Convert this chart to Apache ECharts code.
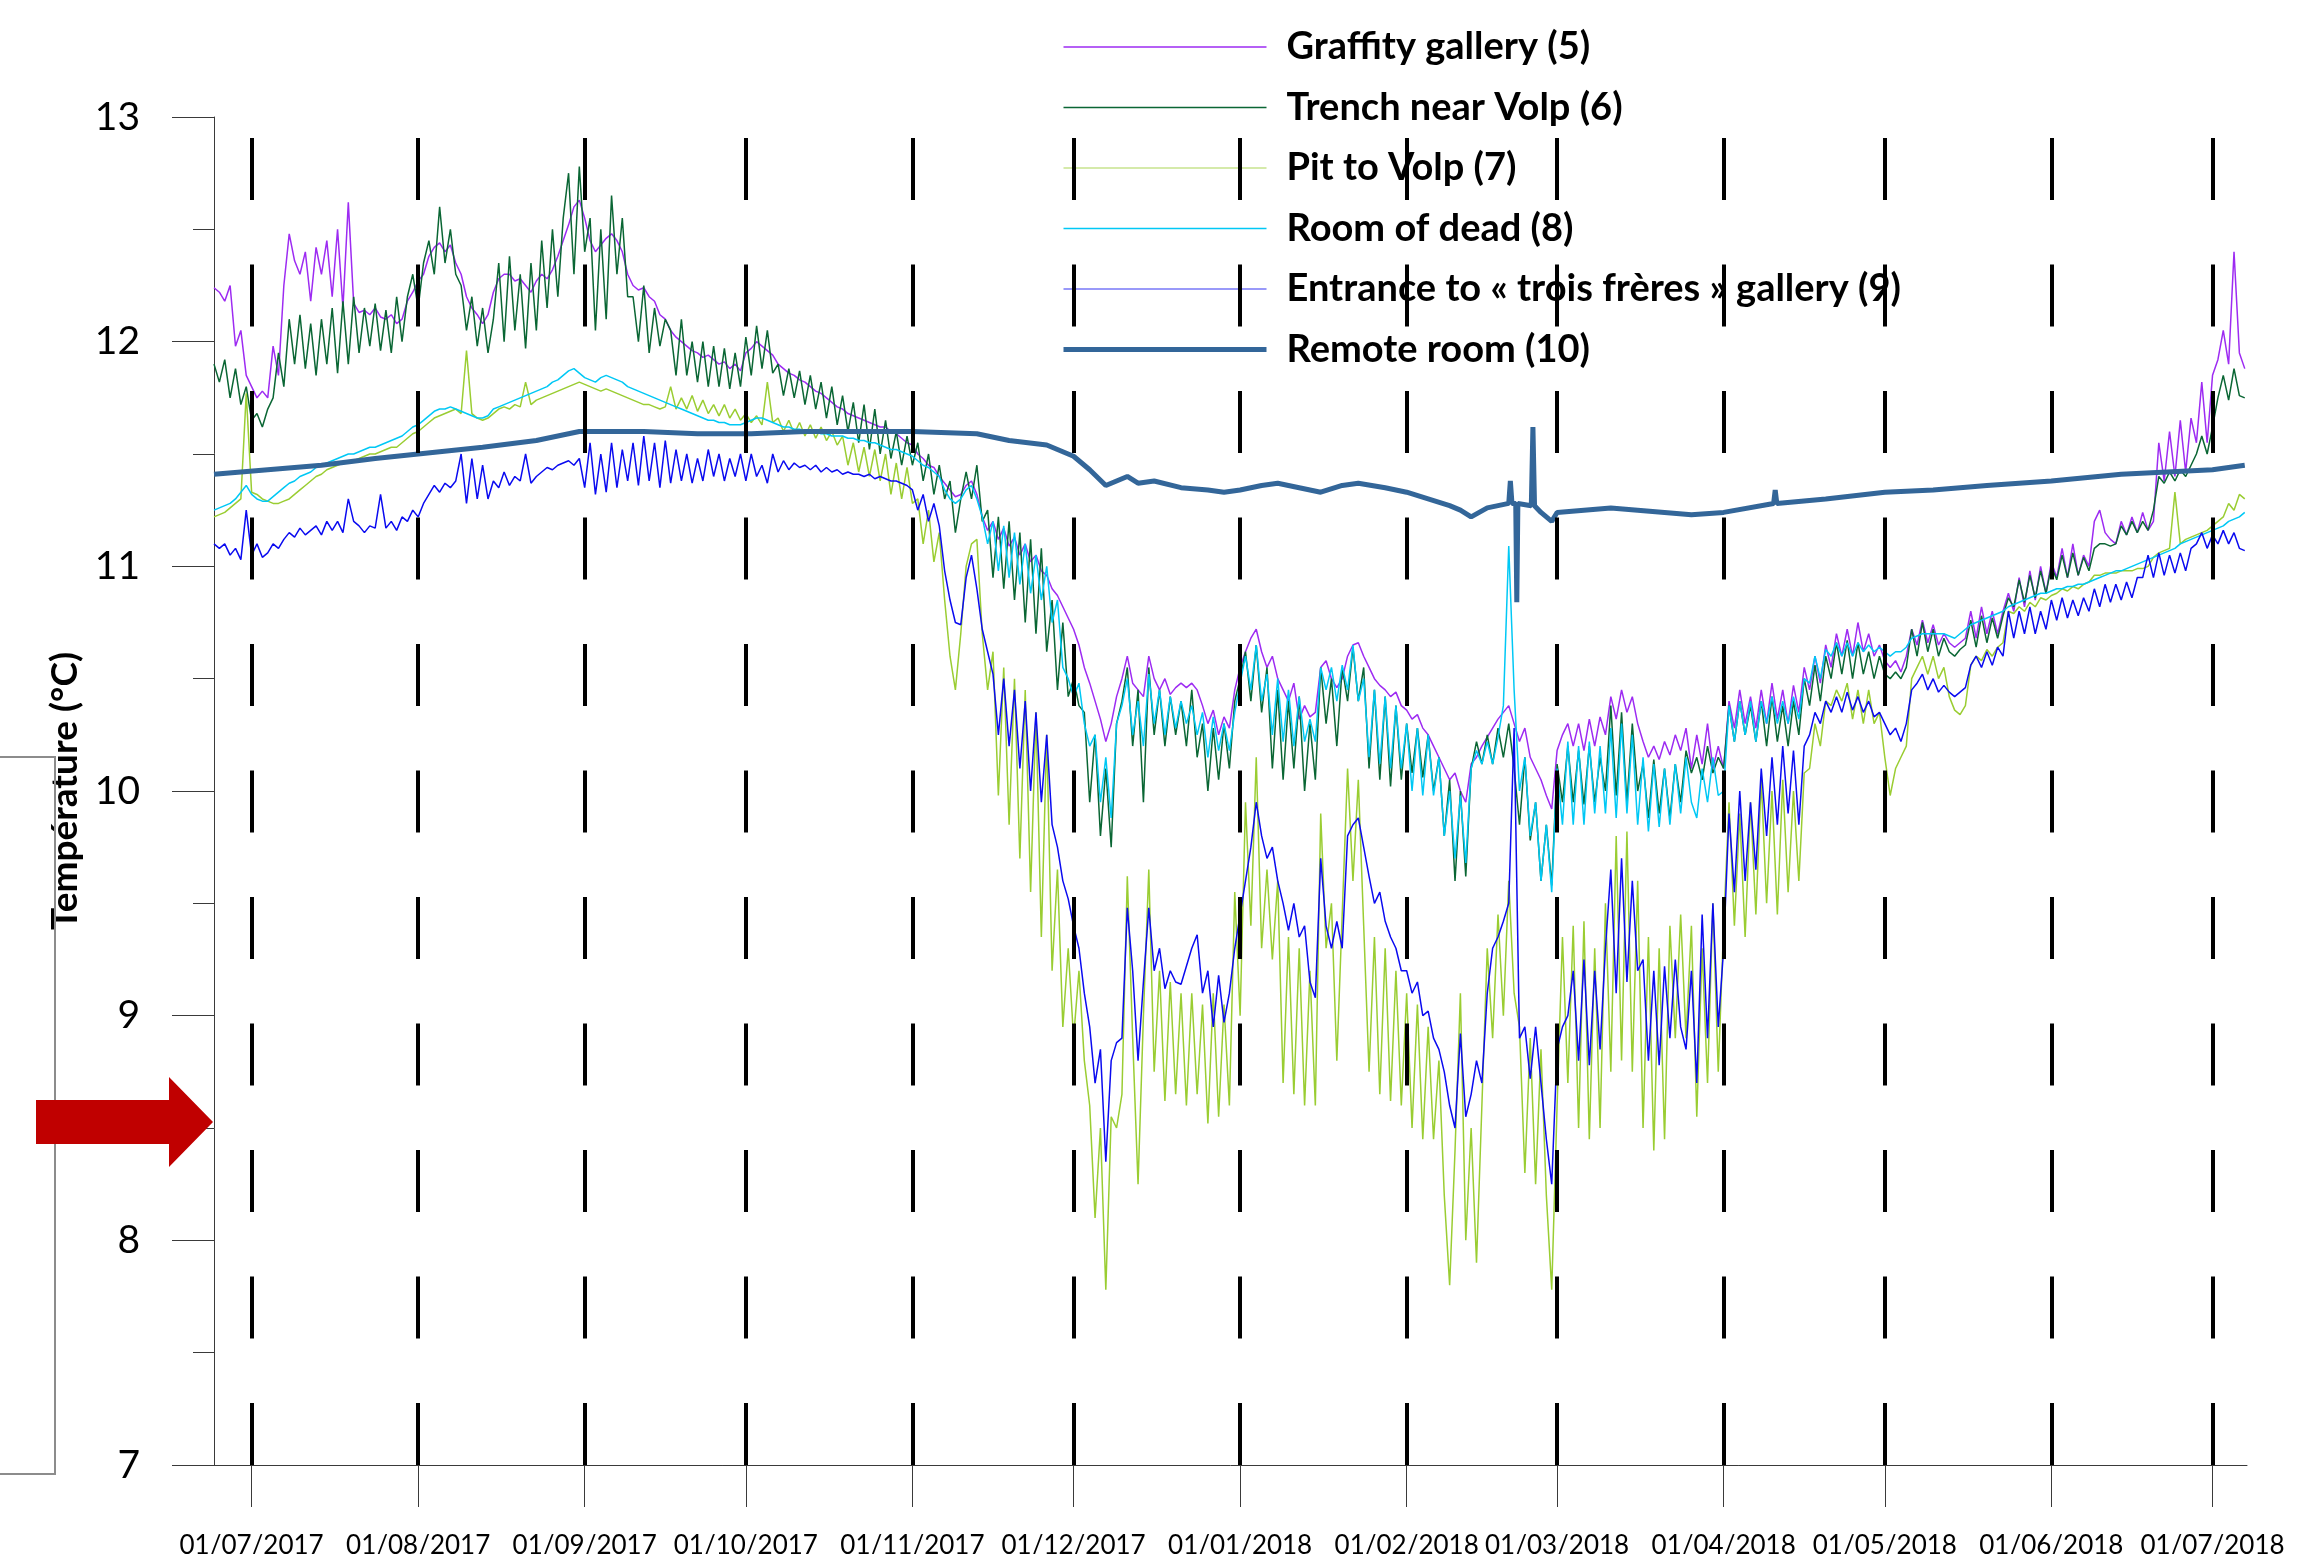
<!DOCTYPE html>
<html>
<head>
<meta charset="utf-8">
<script src="https://cdn.jsdelivr.net/npm/echarts@6/dist/echarts.min.js"></script>
<style>html,body{margin:0;padding:0;background:#fff}#c{width:2323px;height:1554px}</style>
</head>
<body>
<div id="c"></div>
<script>
// ---------- DATA (one value per day, starting 24/06/2017) ----------
const startDate = '2017-06-24';
const endDate = '2018-07-07T10:00';
const tickLabels = ['01/07/2017','01/08/2017','01/09/2017','01/10/2017','01/11/2017','01/12/2017','01/01/2018','01/02/2018','01/03/2018','01/04/2018','01/05/2018','01/06/2018','01/07/2018'];
const seriesNames = ['Graffity gallery (5)','Trench near Volp (6)','Pit to Volp (7)','Room of dead (8)','Entrance to « trois frères » gallery (9)','Remote room (10)'];

const graffity = [
12.24,12.22,12.18,12.25,11.98,12.05,11.85,11.80,11.75,11.78,
11.75,11.98,11.85,12.25,12.48,12.36,12.30,12.40,12.18,12.42,
12.30,12.45,12.20,12.50,12.15,12.62,12.17,12.13,12.14,12.12,
12.15,12.11,12.10,12.12,12.08,12.10,12.18,12.22,12.27,12.30,
12.38,12.42,12.44,12.40,12.43,12.35,12.30,12.20,12.15,12.12,
12.08,12.12,12.22,12.28,12.30,12.30,12.27,12.28,12.25,12.22,
12.27,12.30,12.28,12.32,12.38,12.45,12.52,12.60,12.63,12.55,
12.45,12.40,12.43,12.46,12.48,12.45,12.40,12.30,12.25,12.23,
12.24,12.20,12.18,12.12,12.10,12.05,12.02,12.00,11.98,11.96,
11.95,11.93,11.94,11.92,11.90,11.91,11.88,11.90,11.87,11.95,
11.97,12.00,11.98,11.96,11.94,11.90,11.88,11.86,11.85,11.83,
11.82,11.80,11.78,11.77,11.75,11.73,11.71,11.70,11.68,11.67,
11.66,11.65,11.64,11.63,11.62,11.62,11.60,11.59,11.57,11.55,
11.54,11.50,11.48,11.45,11.44,11.40,11.37,11.34,11.31,11.32,
11.36,11.38,11.32,11.22,11.16,11.20,11.12,11.17,11.09,11.13,
11.05,11.10,11.02,11.05,10.98,10.96,10.90,10.87,10.82,10.77,
10.72,10.65,10.55,10.48,10.40,10.32,10.22,10.30,10.42,10.50,
10.60,10.48,10.45,10.42,10.60,10.50,10.45,10.50,10.43,10.46,
10.48,10.46,10.48,10.45,10.38,10.30,10.36,10.25,10.33,10.28,
10.45,10.55,10.62,10.68,10.72,10.62,10.55,10.60,10.50,10.45,
10.40,10.48,10.32,10.38,10.33,10.35,10.55,10.58,10.50,10.46,
10.50,10.60,10.65,10.66,10.60,10.55,10.50,10.47,10.45,10.42,
10.44,10.38,10.36,10.32,10.34,10.28,10.25,10.20,10.15,10.10,
10.05,10.08,10.00,9.95,10.12,10.15,10.20,10.24,10.28,10.32,
10.35,10.38,10.30,10.22,10.28,10.15,10.10,10.05,9.98,9.92,
10.18,10.25,10.30,10.20,10.30,10.18,10.32,10.20,10.33,10.25,
10.42,10.32,10.45,10.35,10.42,10.30,10.22,10.15,10.20,10.14,
10.22,10.16,10.25,10.18,10.28,10.10,10.25,10.12,10.30,10.10,
10.20,10.10,10.40,10.28,10.45,10.30,10.42,10.28,10.45,10.30,
10.48,10.32,10.45,10.30,10.47,10.35,10.55,10.45,10.60,10.48,
10.65,10.55,10.70,10.60,10.72,10.60,10.75,10.62,10.70,10.60,
10.65,10.58,10.55,10.58,10.53,10.60,10.72,10.65,10.76,10.66,
10.74,10.65,10.70,10.66,10.64,10.66,10.68,10.80,10.68,10.82,
10.70,10.80,10.70,10.80,10.88,10.80,10.95,10.82,10.98,10.85,
11.00,10.88,11.02,10.95,11.08,10.95,11.10,10.96,11.05,11.00,
11.20,11.25,11.15,11.12,11.10,11.20,11.14,11.22,11.15,11.24,
11.16,11.20,11.55,11.38,11.60,11.40,11.65,11.42,11.66,11.55,
11.82,11.55,11.85,11.92,12.05,11.90,12.40,11.95,11.88];

const trench = [
11.90,11.82,11.92,11.75,11.88,11.72,11.80,11.65,11.68,11.62,
11.70,11.75,11.95,11.80,12.10,11.90,12.12,11.88,12.08,11.85,
12.10,11.90,12.15,11.86,12.18,11.90,12.20,11.95,12.15,11.98,
12.17,11.96,12.14,11.95,12.20,12.00,12.20,12.30,12.15,12.35,
12.45,12.30,12.60,12.35,12.50,12.30,12.25,12.05,12.20,11.98,
12.15,11.95,12.10,12.35,12.00,12.38,12.05,12.30,11.97,12.35,
12.05,12.45,12.15,12.50,12.20,12.55,12.75,12.30,12.78,12.40,
12.55,12.05,12.50,12.10,12.65,12.30,12.55,12.20,12.20,12.00,
12.25,11.95,12.15,11.98,12.10,12.05,11.85,12.10,11.85,12.00,
11.82,12.00,11.80,11.98,11.80,11.97,11.79,11.95,11.80,12.02,
11.85,12.07,11.88,12.05,11.86,11.90,11.76,11.88,11.75,11.87,
11.72,11.85,11.70,11.82,11.66,11.80,11.63,11.76,11.60,11.73,
11.55,11.72,11.52,11.70,11.50,11.65,11.48,11.60,11.45,11.58,
11.45,11.55,11.38,11.50,11.32,11.45,11.30,11.38,11.15,11.30,
11.42,11.30,11.45,11.20,11.25,10.95,11.22,10.90,11.20,10.85,
11.15,10.75,11.12,10.70,11.08,10.62,10.85,10.45,10.75,10.42,
10.50,10.38,10.35,9.95,10.25,9.80,10.10,9.75,10.30,10.40,
10.55,10.20,10.45,9.95,10.55,10.25,10.45,10.20,10.42,10.25,
10.40,10.20,10.45,10.15,10.30,10.00,10.28,10.05,10.30,10.10,
10.40,10.50,10.62,10.40,10.65,10.35,10.55,10.10,10.45,10.05,
10.40,10.10,10.42,10.00,10.30,10.05,10.55,10.30,10.50,10.20,
10.55,10.40,10.64,10.40,10.55,10.10,10.45,10.05,10.42,10.02,
10.38,10.05,10.30,10.08,10.28,10.06,10.25,10.00,10.15,9.80,
10.05,9.60,10.00,9.62,10.10,10.22,10.12,10.25,10.12,10.28,
10.15,10.30,10.10,9.85,10.15,9.78,9.95,9.60,9.85,9.58,
10.12,9.95,10.20,9.95,10.18,9.94,10.20,9.95,10.15,10.00,
10.38,9.98,10.35,9.95,10.30,10.00,10.12,9.88,10.14,9.90,
10.10,9.88,10.12,9.95,10.18,10.08,10.15,10.05,10.20,10.08,
10.15,10.10,10.38,10.22,10.40,10.25,10.38,10.22,10.40,10.20,
10.42,10.22,10.38,10.20,10.40,10.25,10.50,10.38,10.56,10.40,
10.60,10.50,10.66,10.52,10.67,10.50,10.66,10.52,10.62,10.50,
10.60,10.52,10.50,10.53,10.50,10.55,10.72,10.60,10.75,10.62,
10.72,10.60,10.68,10.62,10.60,10.63,10.65,10.76,10.64,10.78,
10.66,10.77,10.68,10.78,10.86,10.82,10.94,10.84,10.96,10.86,
10.98,10.88,11.00,10.94,11.05,10.95,11.06,10.96,11.04,10.98,
11.08,11.10,11.10,11.09,11.10,11.18,11.14,11.20,11.15,11.20,
11.16,11.25,11.40,11.37,11.42,11.38,11.43,11.40,11.45,11.50,
11.58,11.50,11.62,11.75,11.85,11.74,11.88,11.76,11.75];

const pit = [
11.22,11.23,11.24,11.26,11.28,11.30,11.77,11.33,11.32,11.30,
11.29,11.28,11.28,11.29,11.30,11.32,11.34,11.36,11.38,11.40,
11.41,11.43,11.44,11.45,11.46,11.47,11.47,11.48,11.49,11.50,
11.50,11.51,11.52,11.53,11.53,11.55,11.57,11.59,11.60,11.62,
11.64,11.66,11.67,11.68,11.69,11.70,11.68,11.96,11.68,11.66,
11.65,11.66,11.68,11.70,11.71,11.70,11.72,11.71,11.82,11.72,
11.74,11.75,11.76,11.77,11.78,11.79,11.80,11.81,11.82,11.81,
11.80,11.79,11.78,11.79,11.78,11.77,11.76,11.75,11.74,11.73,
11.72,11.72,11.71,11.70,11.71,11.80,11.70,11.75,11.70,11.76,
11.69,11.74,11.68,11.72,11.67,11.72,11.66,11.70,11.65,11.68,
11.64,11.67,11.63,11.82,11.64,11.66,11.60,11.65,11.59,11.64,
11.58,11.63,11.57,11.62,11.56,11.60,11.54,11.58,11.45,11.55,
11.42,11.53,11.40,11.52,11.38,11.50,11.32,11.46,11.30,11.44,
11.28,11.30,11.10,11.25,11.02,11.15,10.85,10.60,10.45,10.70,
11.00,11.10,11.12,10.70,10.45,10.62,9.98,10.55,9.85,10.50,
9.70,10.45,9.55,10.35,9.35,10.25,9.20,9.65,8.95,9.30,
8.90,9.20,8.80,8.60,8.10,8.50,7.78,8.55,8.50,8.65,
9.62,8.90,8.25,9.00,9.65,8.75,9.20,8.62,9.15,8.65,
9.10,8.60,9.10,8.65,9.05,8.52,9.10,8.55,9.05,8.60,
9.55,9.00,9.95,9.40,10.15,9.30,9.65,9.25,9.60,8.70,
9.35,8.65,9.30,8.60,9.20,8.60,9.90,9.30,9.50,8.80,
9.45,10.10,9.60,10.05,9.40,8.75,9.35,8.65,9.30,8.62,
9.20,8.60,9.10,8.50,9.05,8.45,8.95,8.45,8.80,8.20,
7.80,8.40,9.10,8.00,8.50,7.90,8.60,9.30,8.90,9.45,
9.00,9.60,9.10,8.95,8.30,8.90,8.25,8.85,8.20,7.78,
8.60,9.35,8.70,9.40,8.50,9.42,8.45,9.30,8.50,9.50,
8.75,9.80,8.80,9.82,8.75,9.60,8.50,9.35,8.40,9.30,
8.45,9.40,8.90,9.45,8.90,9.40,8.55,9.30,8.70,9.50,
8.75,9.40,9.95,9.40,9.90,9.35,9.95,9.45,10.05,9.50,
10.00,9.45,10.05,9.55,10.00,9.60,10.08,10.10,10.30,10.20,
10.40,10.38,10.45,10.40,10.48,10.32,10.45,10.30,10.45,10.30,
10.35,10.15,9.98,10.10,10.15,10.20,10.50,10.55,10.60,10.52,
10.60,10.50,10.55,10.42,10.36,10.34,10.38,10.56,10.60,10.58,
10.63,10.60,10.64,10.66,10.80,10.79,10.82,10.80,10.84,10.82,
10.86,10.85,10.87,10.88,10.90,10.89,10.91,10.90,10.92,10.93,
10.96,10.96,10.97,10.97,10.97,10.98,10.98,10.98,10.99,10.99,
11.00,11.04,11.06,11.07,11.08,11.33,11.10,11.12,11.13,11.14,
11.15,11.16,11.18,11.20,11.22,11.28,11.25,11.32,11.30];

const roomDead = [
11.25,11.26,11.27,11.28,11.30,11.33,11.36,11.32,11.30,11.29,
11.29,11.31,11.33,11.35,11.37,11.38,11.40,11.41,11.42,11.44,
11.45,11.46,11.47,11.48,11.49,11.50,11.50,11.51,11.52,11.53,
11.53,11.54,11.55,11.56,11.57,11.58,11.60,11.62,11.63,11.65,
11.67,11.69,11.70,11.70,11.71,11.70,11.69,11.68,11.67,11.66,
11.66,11.67,11.70,11.71,11.72,11.73,11.74,11.75,11.76,11.77,
11.78,11.79,11.80,11.82,11.83,11.85,11.87,11.88,11.86,11.84,
11.83,11.82,11.84,11.85,11.84,11.83,11.82,11.80,11.79,11.78,
11.77,11.76,11.75,11.74,11.73,11.72,11.71,11.70,11.69,11.68,
11.67,11.66,11.65,11.65,11.64,11.64,11.63,11.63,11.63,11.64,
11.65,11.66,11.66,11.65,11.64,11.63,11.62,11.62,11.61,11.61,
11.60,11.60,11.60,11.59,11.59,11.58,11.58,11.58,11.57,11.57,
11.56,11.56,11.55,11.55,11.54,11.53,11.52,11.52,11.51,11.50,
11.49,11.47,11.45,11.44,11.42,11.40,11.34,11.30,11.28,11.30,
11.34,11.36,11.30,11.22,11.10,11.20,10.98,11.18,10.95,11.15,
10.92,11.10,10.88,11.05,10.85,11.00,10.75,10.85,10.55,10.50,
10.42,10.48,10.30,10.20,10.25,9.95,10.15,9.88,10.30,10.38,
10.50,10.25,10.40,10.20,10.52,10.30,10.45,10.25,10.42,10.28,
10.40,10.30,10.38,10.25,10.35,10.15,10.33,10.18,10.30,10.18,
10.35,10.48,10.60,10.45,10.65,10.40,10.52,10.25,10.50,10.22,
10.45,10.20,10.42,10.22,10.32,10.22,10.55,10.45,10.55,10.40,
10.56,10.45,10.65,10.40,10.50,10.15,10.45,10.12,10.42,10.10,
10.38,10.10,10.30,10.00,10.28,9.98,10.25,9.98,10.15,9.80,
10.00,9.70,9.98,9.68,10.10,10.18,10.12,10.22,10.12,10.24,
10.38,11.09,10.45,10.00,10.15,9.80,9.95,9.60,9.85,9.55,
10.10,9.85,10.22,9.85,10.20,9.85,10.22,9.90,10.20,9.90,
10.28,9.88,10.30,9.90,10.25,9.85,10.15,9.82,10.12,9.84,
10.10,9.85,10.12,9.90,10.15,9.95,9.88,10.10,9.95,10.15,
9.98,10.00,10.38,10.22,10.40,10.25,10.40,10.22,10.40,10.30,
10.42,10.30,10.40,10.30,10.42,10.32,10.50,10.48,10.60,10.50,
10.63,10.60,10.66,10.60,10.66,10.60,10.66,10.62,10.65,10.62,
10.64,10.62,10.60,10.62,10.62,10.64,10.68,10.69,10.70,10.70,
10.70,10.70,10.70,10.69,10.68,10.70,10.72,10.74,10.75,10.76,
10.77,10.78,10.79,10.80,10.82,10.83,10.84,10.85,10.86,10.87,
10.88,10.88,10.89,10.90,10.90,10.91,10.91,10.92,10.92,10.93,
10.94,10.95,10.96,10.97,10.98,10.98,10.99,11.00,11.01,11.02,
11.03,11.04,11.05,11.06,11.07,11.08,11.10,11.11,11.12,11.13,
11.14,11.15,11.16,11.17,11.18,11.20,11.21,11.22,11.24];

const entrance = [
11.10,11.08,11.10,11.05,11.08,11.03,11.25,11.05,11.10,11.04,
11.06,11.10,11.08,11.12,11.15,11.13,11.17,11.14,11.16,11.18,
11.14,11.20,11.16,11.20,11.15,11.30,11.20,11.18,11.15,11.18,
11.17,11.32,11.17,11.20,11.16,11.22,11.20,11.25,11.22,11.28,
11.32,11.36,11.33,11.37,11.35,11.38,11.50,11.28,11.48,11.30,
11.45,11.30,11.38,11.35,11.42,11.36,11.40,11.38,11.50,11.37,
11.40,11.42,11.44,11.43,11.45,11.46,11.47,11.45,11.48,11.35,
11.55,11.32,11.50,11.33,11.55,11.35,11.52,11.38,11.55,11.36,
11.58,11.38,11.55,11.35,11.56,11.37,11.52,11.38,11.50,11.37,
11.48,11.38,11.52,11.40,11.50,11.38,11.48,11.40,11.50,11.38,
11.50,11.40,11.45,11.37,11.50,11.42,11.47,11.43,11.46,11.44,
11.45,11.43,11.45,11.42,11.44,11.42,11.43,11.41,11.42,11.41,
11.41,11.40,11.41,11.39,11.40,11.39,11.38,11.38,11.37,11.36,
11.34,11.25,11.32,11.20,11.28,11.18,10.98,10.85,10.75,10.74,
10.95,11.05,10.90,10.72,10.62,10.52,10.25,10.50,10.20,10.45,
10.10,10.40,10.00,10.35,9.95,10.25,9.85,9.75,9.60,9.52,
9.40,9.30,9.10,8.95,8.70,8.85,8.35,8.80,8.88,8.90,
9.48,9.20,8.80,9.15,9.48,9.20,9.30,9.12,9.20,9.15,
9.14,9.22,9.30,9.36,9.10,9.20,8.95,9.18,8.97,9.10,
9.30,9.45,9.60,9.75,9.95,9.80,9.70,9.75,9.60,9.50,
9.38,9.50,9.35,9.40,9.15,9.08,9.70,9.40,9.30,9.42,
9.30,9.80,9.85,9.88,9.75,9.62,9.50,9.55,9.42,9.35,
9.30,9.20,9.20,9.10,9.15,9.00,9.02,8.90,8.85,8.75,
8.60,8.50,8.92,8.55,8.65,8.80,8.70,9.10,9.30,9.35,
9.42,9.50,10.28,8.90,8.95,8.72,8.95,8.70,8.45,8.25,
8.85,8.95,9.00,9.20,8.80,9.25,8.78,9.20,8.85,9.30,
9.65,9.10,9.70,9.15,9.60,9.20,9.25,8.80,9.20,8.78,
9.22,8.90,9.25,8.95,8.85,9.20,8.70,9.45,8.90,9.50,
8.95,9.30,9.90,9.55,10.00,9.60,9.95,9.65,10.10,9.80,
10.15,9.85,10.20,9.90,10.18,9.85,10.20,10.25,10.35,10.30,
10.40,10.35,10.42,10.35,10.44,10.36,10.42,10.35,10.40,10.33,
10.35,10.30,10.25,10.28,10.22,10.30,10.45,10.48,10.52,10.45,
10.50,10.44,10.47,10.44,10.42,10.44,10.46,10.56,10.60,10.55,
10.62,10.56,10.64,10.60,10.80,10.68,10.80,10.70,10.82,10.70,
10.80,10.72,10.85,10.76,10.86,10.77,10.85,10.78,10.86,10.80,
10.90,10.82,10.92,10.84,10.92,10.85,10.93,10.86,10.95,10.95,
11.05,10.95,11.06,10.96,11.05,10.97,11.06,10.98,11.08,11.10,
11.15,11.08,11.14,11.10,11.16,11.10,11.15,11.08,11.07];

// Remote room: day offsets (from startDate) and values
const remoteDays = [0,10,20,30,38,50,60,68,80,90,
100,110,120,130,142,148,155,160,163,166,
168,170,172,175,180,185,188,191,195,198,
202,206,210,213,218,222,226,230,232,234,
237,241,241.3,241.6,242.3,242.5,242.7,245.2,245.5,245.8,
247,249,250,255,260,265,270,275,281,290.3,
290.6,290.9,300,311,320,330,342,355,372,378];
const remoteTemps = [11.41,11.43,11.45,11.48,11.50,11.53,11.56,11.60,11.60,11.59,
11.59,11.60,11.60,11.60,11.59,11.56,11.54,11.49,11.43,11.36,
11.38,11.40,11.37,11.38,11.35,11.34,11.33,11.34,11.36,11.37,
11.35,11.33,11.36,11.37,11.35,11.33,11.30,11.27,11.25,11.22,
11.26,11.28,11.38,11.28,11.28,10.84,11.28,11.27,11.62,11.27,
11.24,11.20,11.24,11.25,11.26,11.25,11.24,11.23,11.24,11.28,
11.34,11.28,11.30,11.33,11.34,11.36,11.38,11.41,11.43,11.45];

// ---------- BUILD ----------
const DAY = 86400000;
function parseLocal(s){ const [d,t] = s.split('T'); const p = d.split('-').map(Number); let h=0,m=0; if(t){const q=t.split(':').map(Number);h=q[0];m=q[1];} return new Date(p[0],p[1]-1,p[2],h,m).getTime(); }
const t0 = parseLocal(startDate);
const tEnd = parseLocal(endDate);
const tickVals = tickLabels.map(s => { const p = s.split('/').map(Number); return new Date(p[2], p[1]-1, p[0]).getTime(); });
const daily = arr => arr.map((v,i) => [t0 + i*DAY, v]);
const remoteData = remoteDays.map((d,i) => [t0 + Math.round(d*DAY), remoteTemps[i]]);

const colors = ['#9D2BF2','#0A6634','#9ACD32','#00C8F5','#0A0AF0','#336699'];
const datasets = [daily(graffity), daily(trench), daily(pit), daily(roomDead), daily(entrance), remoteData];

const series = datasets.map((data,i) => ({
  name: seriesNames[i],
  type: 'line',
  data: data,
  showSymbol: false,
  symbol: 'none',
  color: colors[i],
  lineStyle: { width: i === 5 ? 5 : 1.5, color: colors[i] },
  animation: false
}));
series[0].markLine = {
  silent: true,
  symbol: 'none',
  label: { show: false },
  lineStyle: { color: '#000', width: 4, type: [62, 64.5], opacity: 1 },
  data: tickVals.map(v => ({ xAxis: v }))
};

function labelFor(v){ let best = 0; tickVals.forEach((t,i) => { if (Math.abs(t - v) < Math.abs(tickVals[best] - v)) best = i; }); return tickLabels[best]; }

const legendData = seriesNames.map((n,i) => (i === 2 || i === 4) ? { name: n, lineStyle: { opacity: 0.55 } } : { name: n });

const axisGrey = '#3a3a3a';
const chart = echarts.init(document.getElementById('c'), null, { renderer: 'canvas' });
chart.setOption({
  animation: false,
  backgroundColor: '#fff',
  grid: { left: 214, right: 76, top: 117, bottom: 89, containLabel: false, outerBoundsMode: 'none' },
  legend: {
    orient: 'vertical',
    left: 1061, top: 27, padding: 0,
    itemWidth: 203, itemHeight: 14, itemGap: 20.5,
    data: legendData,
    itemStyle: { opacity: 0 },
    lineStyle: { width: 'inherit' },
    textStyle: { fontFamily: 'Lato', fontWeight: 'bold', fontSize: 38, color: '#000', lineHeight: 40, padding: [0,0,0,15] }
  },
  xAxis: {
    type: 'value', min: t0, max: tEnd, scale: true,
    axisLine: { show: true, onZero: false, lineStyle: { color: axisGrey, width: 1 } },
    axisTick: { show: true, customValues: tickVals, length: 42, lineStyle: { color: axisGrey, width: 1 } },
    axisLabel: { customValues: tickVals, margin: 68, fontFamily: 'Lato', fontSize: 26, color: '#000', formatter: labelFor },
    splitLine: { show: false }
  },
  yAxis: {
    type: 'value', min: 7, max: 13, interval: 1,
    name: 'Température (°C)', nameLocation: 'middle', nameRotate: 90, nameGap: 116,
    nameTextStyle: { fontFamily: 'Lato', fontWeight: 'bold', fontSize: 37, color: '#000' },
    axisLine: { show: true, lineStyle: { color: axisGrey, width: 1 } },
    axisTick: { show: true, length: 42, lineStyle: { color: axisGrey, width: 1 } },
    minorTick: { show: true, splitNumber: 2, length: 21, lineStyle: { color: axisGrey, width: 1 } },
    splitLine: { show: false },
    axisLabel: { fontFamily: 'Lato', fontSize: 39, color: '#000', margin: 74 }
  },
  graphic: [
    { type: 'polyline', z: 100, shape: { points: [[0,757],[55,757],[55,1474],[0,1474]] }, style: { stroke: '#8c8c8c', lineWidth: 2, fill: null } },
    { type: 'polygon', z: 101, shape: { points: [[36,1100],[169,1100],[169,1077],[213,1122],[169,1167],[169,1144],[36,1144]] }, style: { fill: '#C00000' } }
  ],
  series: series
});
</script>
</body>
</html>
